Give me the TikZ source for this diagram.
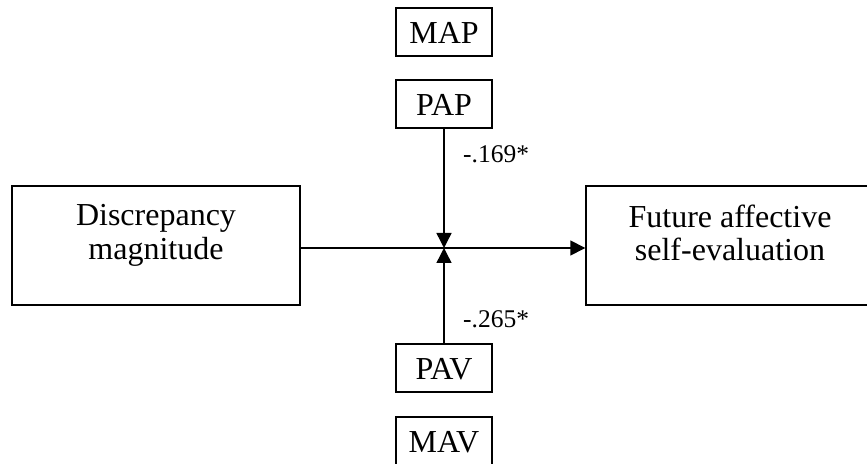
\documentclass[tikz,border=0pt]{standalone}
\usepackage{fontspec}
\setmainfont{Liberation Serif}
\usepackage{tikz}
\usetikzlibrary{arrows.meta}
\tikzset{
    var-box/.style = {draw=black, fill=white, line width=1.4pt, rectangle, minimum width=96pt, minimum height=48pt, inner sep=0pt, text height=24pt, text depth=0pt, font=\fontsize{32}{33}\selectfont},
    big-box/.style = {draw=black, fill=white, line width=1.4pt, rectangle, minimum width=288pt, minimum height=119pt, inner sep=0pt},
    box-text/.style = {inner sep=0pt, align=center, anchor=north, font=\fontsize{32}{33.5}\selectfont},
    coef-label/.style = {inner sep=0pt, anchor=base west, font=\fontsize{25.5}{27}\selectfont},
    path-arrow/.style = {line width=1.4pt, -{Triangle[length=15pt, width=15pt]}},
}
\begin{document}
\begin{tikzpicture}[x=1pt, y=1pt]
\useasboundingbox (0,0) rectangle (867,463);
% moderators
\node[var-box] (map) at (444,431) {MAP};
\node[var-box] (pap) at (444,359) {PAP};
\node[var-box] (pav) at (444,95) {PAV};
\node[var-box] (mav) at (444,22) {MAV};
% predictor and outcome
\node[big-box] (disc) at (156,217.5) {};
\node[box-text] (disc-text) at ([yshift=-19pt]disc.north) {Discrepancy\\magnitude};
\node[big-box] (fut) at (730,217.5) {};
\node[box-text] (fut-text) at ([yshift=-19pt]fut.north) {Future affective\\self-evaluation};
\coordinate (mid) at (444,215);
% paths
\draw[path-arrow] (disc.east |- mid) -- (fut.west |- mid);
\draw[path-arrow] (pap) -- (mid);
\draw[path-arrow] (pav) -- (mid);
\node[coef-label] (pap-coef) at (463,300) {-.169*};
\node[coef-label] (pav-coef) at (463,135) {-.265*};
\end{tikzpicture}
\end{document}
